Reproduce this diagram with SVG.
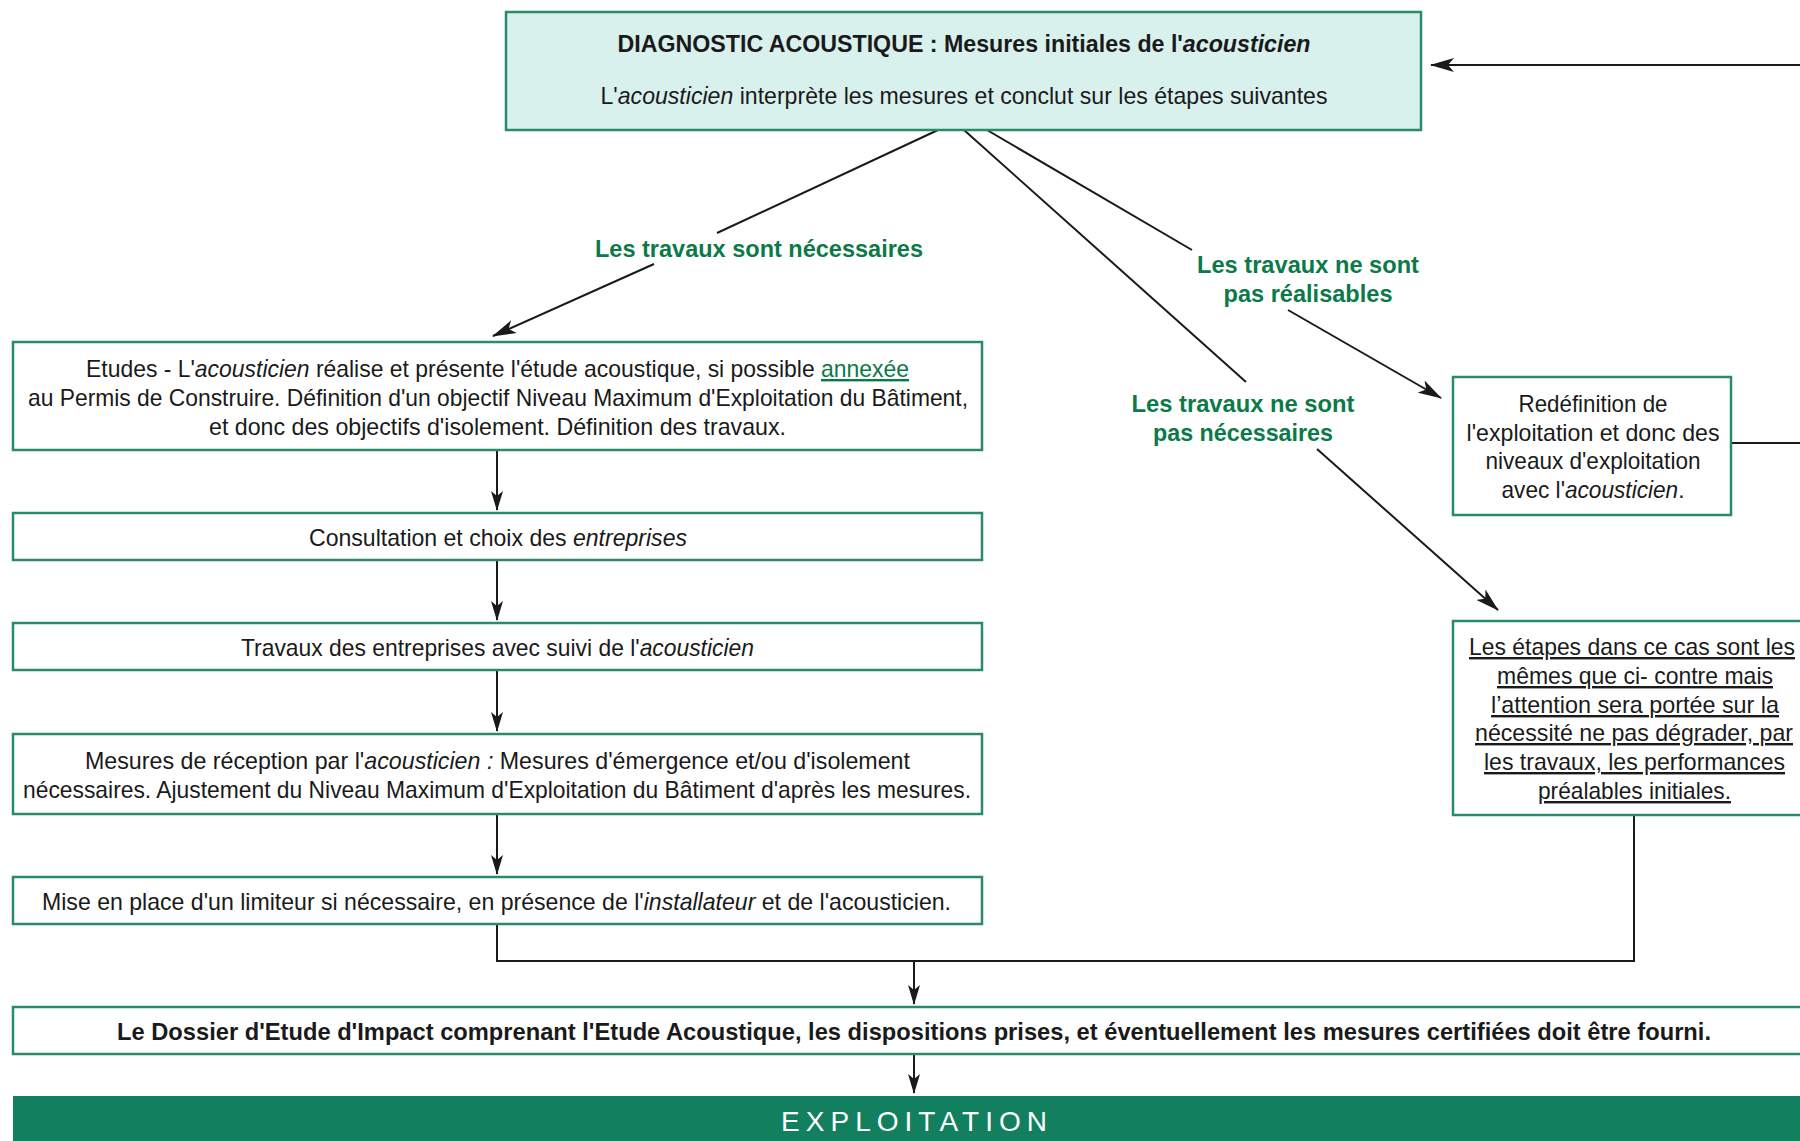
<svg xmlns="http://www.w3.org/2000/svg" width="1800" height="1141" viewBox="0 0 1800 1141">
<style>
text{font-family:"Liberation Sans","DejaVu Sans",sans-serif;font-size:24px;fill:#1a1a1a;text-anchor:middle}
.box{fill:#ffffff;stroke:#2b8a6b;stroke-width:2.5}
.top{fill:#d8f1ed;stroke:#2b8a6b;stroke-width:2.5}
.lbl{fill:#0b7a48;font-weight:bold;font-size:24px}
.b{font-weight:bold}
.i{font-style:italic}
.u{text-decoration:underline}
.con{fill:none;stroke:#1a1a1a;stroke-width:2}
</style>
<defs>
<marker id="ah" markerWidth="20" markerHeight="12" refX="19" refY="6" orient="auto" markerUnits="userSpaceOnUse">
<path d="M0,0 L20,6 L0,12 L5,6 z" fill="#1a1a1a"/>
</marker>
<marker id="ahb" markerWidth="24" markerHeight="14" refX="23" refY="7" orient="auto" markerUnits="userSpaceOnUse">
<path d="M0,0 L24,7 L0,14 L6,7 z" fill="#1a1a1a"/>
</marker>
</defs>
<rect width="1800" height="1141" fill="#ffffff"/>

<g id="connectors">
<line class="con" x1="1800" y1="65" x2="1431" y2="65" marker-end="url(#ahb)"/>
<line class="con" x1="1731" y1="443" x2="1800" y2="443"/>
<line class="con" x1="938" y1="130" x2="717" y2="233"/>
<line class="con" x1="654" y1="264" x2="493" y2="336" marker-end="url(#ahb)"/>
<line class="con" x1="964" y1="130" x2="1246" y2="382"/>
<line class="con" x1="1317" y1="449" x2="1498" y2="610" marker-end="url(#ahb)"/>
<line class="con" x1="987" y1="130" x2="1192" y2="250"/>
<line class="con" x1="1288" y1="310" x2="1441" y2="398" marker-end="url(#ahb)"/>
<line class="con" x1="497" y1="450" x2="497" y2="510" marker-end="url(#ah)"/>
<line class="con" x1="497" y1="560" x2="497" y2="620" marker-end="url(#ah)"/>
<line class="con" x1="497" y1="670" x2="497" y2="731" marker-end="url(#ah)"/>
<line class="con" x1="497" y1="814" x2="497" y2="874" marker-end="url(#ah)"/>
<polyline class="con" points="497,924 497,961 1634,961 1634,815"/>
<line class="con" x1="914" y1="961" x2="914" y2="1004" marker-end="url(#ah)"/>
<line class="con" x1="914" y1="1054" x2="914" y2="1093" marker-end="url(#ah)"/>
</g>

<g id="diagnostic">
<rect class="top" x="506" y="12" width="915" height="118"/>
<text x="964" y="52" class="b" textLength="693" lengthAdjust="spacingAndGlyphs">DIAGNOSTIC ACOUSTIQUE : Mesures initiales de l'<tspan class="i">acousticien</tspan></text>
<text x="964" y="104" textLength="727" lengthAdjust="spacingAndGlyphs">L'<tspan class="i">acousticien</tspan> interprète les mesures et conclut sur les étapes suivantes</text>
</g>

<g id="label-necessaires">
<text x="759" y="257" class="lbl" textLength="328" lengthAdjust="spacingAndGlyphs">Les travaux sont nécessaires</text>
</g>
<g id="label-realisables">
<text x="1308" y="273" class="lbl" textLength="222" lengthAdjust="spacingAndGlyphs">Les travaux ne sont</text>
<text x="1308" y="302" class="lbl" textLength="169" lengthAdjust="spacingAndGlyphs">pas réalisables</text>
</g>
<g id="label-pas-necessaires">
<text x="1243" y="412" class="lbl" textLength="223" lengthAdjust="spacingAndGlyphs">Les travaux ne sont</text>
<text x="1243" y="441" class="lbl" textLength="180" lengthAdjust="spacingAndGlyphs">pas nécessaires</text>
</g>

<g id="etudes">
<rect class="box" x="13" y="342" width="969" height="108"/>
<text x="497.5" y="377" textLength="823" lengthAdjust="spacingAndGlyphs">Etudes - L'<tspan class="i">acousticien</tspan> réalise et présente l'étude acoustique, si possible <tspan class="u" style="fill:#0b7a48">annexée</tspan></text>
<text x="498" y="406" textLength="940" lengthAdjust="spacingAndGlyphs">au Permis de Construire. Définition d'un objectif Niveau Maximum d'Exploitation du Bâtiment,</text>
<text x="497.5" y="435" textLength="577" lengthAdjust="spacingAndGlyphs">et donc des objectifs d'isolement. Définition des travaux.</text>
</g>

<g id="consultation">
<rect class="box" x="13" y="513" width="969" height="47"/>
<text x="498" y="546" textLength="378" lengthAdjust="spacingAndGlyphs">Consultation et choix des <tspan class="i">entreprises</tspan></text>
</g>

<g id="travaux">
<rect class="box" x="13" y="623" width="969" height="47"/>
<text x="497.5" y="656" textLength="513" lengthAdjust="spacingAndGlyphs">Travaux des entreprises avec suivi de l'<tspan class="i">acousticien</tspan></text>
</g>

<g id="mesures">
<rect class="box" x="13" y="734" width="969" height="80"/>
<text x="497.5" y="769" textLength="825" lengthAdjust="spacingAndGlyphs">Mesures de réception par l'<tspan class="i">acousticien :</tspan> Mesures d'émergence et/ou d'isolement</text>
<text x="497" y="798" textLength="948" lengthAdjust="spacingAndGlyphs">nécessaires. Ajustement du Niveau Maximum d'Exploitation du Bâtiment d'après les mesures.</text>
</g>

<g id="limiteur">
<rect class="box" x="13" y="877" width="969" height="47"/>
<text x="496.5" y="910" textLength="909" lengthAdjust="spacingAndGlyphs">Mise en place d'un limiteur si nécessaire, en présence de l'<tspan class="i">installateur</tspan> et de l'acousticien.</text>
</g>

<g id="redefinition">
<rect class="box" x="1453" y="377" width="278" height="138"/>
<text x="1593" y="412" textLength="149" lengthAdjust="spacingAndGlyphs">Redéfinition de</text>
<text x="1593" y="441" textLength="253" lengthAdjust="spacingAndGlyphs">l'exploitation et donc des</text>
<text x="1593" y="469" textLength="215" lengthAdjust="spacingAndGlyphs">niveaux d'exploitation</text>
<text x="1593" y="498" textLength="183" lengthAdjust="spacingAndGlyphs">avec l'<tspan class="i">acousticien</tspan>.</text>
</g>

<g id="etapes">
<rect class="box" x="1453" y="621" width="370" height="194"/>
<text class="u" x="1632" y="655" textLength="326" lengthAdjust="spacingAndGlyphs">Les étapes dans ce cas sont les</text>
<text class="u" x="1635" y="684" textLength="276" lengthAdjust="spacingAndGlyphs">mêmes que ci- contre mais</text>
<text class="u" x="1635" y="713" textLength="288" lengthAdjust="spacingAndGlyphs">l’attention sera portée sur la</text>
<text class="u" x="1634" y="741" textLength="318" lengthAdjust="spacingAndGlyphs">nécessité ne pas dégrader, par</text>
<text class="u" x="1634.5" y="770" textLength="301" lengthAdjust="spacingAndGlyphs">les travaux, les performances</text>
<text class="u" x="1634.5" y="799" textLength="193" lengthAdjust="spacingAndGlyphs">préalables initiales.</text>
</g>

<g id="dossier">
<rect class="box" x="13" y="1007" width="1810" height="47"/>
<text class="b" x="914" y="1040" textLength="1594" lengthAdjust="spacingAndGlyphs">Le Dossier d'Etude d'Impact comprenant l'Etude Acoustique, les dispositions prises, et éventuellement les mesures certifiées doit être fourni.</text>
</g>

<g id="exploitation">
<rect x="13" y="1096" width="1810" height="60" fill="#12805f"/>
<text x="914" y="1131" style="fill:#ffffff;font-size:28px" textLength="266" lengthAdjust="spacing">EXPLOITATION</text>
</g>
</svg>
